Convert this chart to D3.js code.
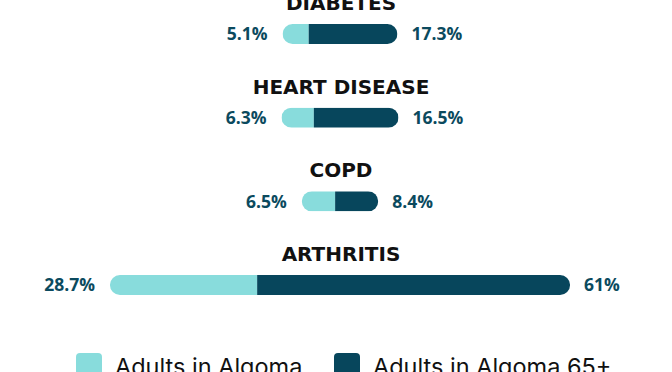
<!DOCTYPE html>
<html>
<head>
<meta charset="utf-8">
<script src="https://cdn.jsdelivr.net/npm/d3@7"></script>
<style>
  html, body { margin: 0; padding: 0; background: #fff; }
  svg { display: block; }
</style>
</head>
<body>
<svg id="chart" width="672" height="372"></svg>
<script>
// Chart data
const conditions = ['DIABETES', 'HEART DISEASE', 'COPD', 'ARTHRITIS'];
const adultsAll = [5.1, 6.3, 6.5, 28.7];
const adults65 = [17.3, 16.5, 8.4, 61];
const seriesNames = ['Adults in Algoma', 'Adults in Algoma 65+'];

const lightColor = '#88dcdc';
const darkColor = '#07465c';
const valueColor = '#0b4a5e';

const svg = d3.select('#chart');
const centerX = 340;
const barH = 20;

// px per percentage point
const x = d3.scaleLinear().domain([0, 100]).range([0, 513]);

// vertical position of each bar (centre line)
const y = d3.scalePoint().domain(conditions).range([34, 285]);

const fmt = v => `${v}%`;

const rows = conditions.map((c, i) => ({ name: c, a: adultsAll[i], b: adults65[i] }));

const defs = svg.append('defs');

const g = svg.selectAll('g.row')
  .data(rows)
  .join('g')
  .attr('class', 'row')
  .attr('transform', d => `translate(0,${y(d.name)})`);

g.each(function(d, i) {
  const row = d3.select(this);
  const total = x(d.a + d.b);
  const left = centerX - total / 2;

  // rounded outline used as clip for both segments
  defs.append('clipPath')
    .attr('id', `clip-${i}`)
    .append('rect')
    .attr('x', left)
    .attr('y', -barH / 2)
    .attr('width', total)
    .attr('height', barH)
    .attr('rx', barH / 2);

  const bar = row.append('g').attr('clip-path', `url(#clip-${i})`);
  bar.append('rect')
    .attr('x', left)
    .attr('y', -barH / 2)
    .attr('width', x(d.a))
    .attr('height', barH)
    .attr('fill', lightColor);
  bar.append('rect')
    .attr('x', left + x(d.a))
    .attr('y', -barH / 2)
    .attr('width', x(d.b))
    .attr('height', barH)
    .attr('fill', darkColor);

  // title
  row.append('text')
    .attr('x', centerX + 1)
    .attr('y', -barH / 2 - 14)
    .attr('text-anchor', 'middle')
    .attr('font-family', '"DejaVu Sans", sans-serif')
    .attr('font-weight', 700)
    .attr('font-size', 20)
    .attr('fill', '#111')
    .text(d.name);

  // values
  row.append('text')
    .attr('x', left - 15)
    .attr('y', 0)
    .attr('dy', '0.36em')
    .attr('text-anchor', 'end')
    .attr('font-family', '"Open Sans", sans-serif')
    .attr('font-weight', 700)
    .attr('font-size', 17.5)
    .attr('fill', valueColor)
    .text(fmt(d.a));
  row.append('text')
    .attr('x', left + total + 14)
    .attr('y', 0)
    .attr('dy', '0.36em')
    .attr('text-anchor', 'start')
    .attr('font-family', '"Open Sans", sans-serif')
    .attr('font-weight', 700)
    .attr('font-size', 17.5)
    .attr('fill', valueColor)
    .text(fmt(d.b));
});

// legend
const legendX = [76, 334];
const legend = svg.selectAll('g.legend')
  .data(seriesNames)
  .join('g')
  .attr('class', 'legend')
  .attr('transform', (d, i) => `translate(${legendX[i]},353)`);

legend.append('rect')
  .attr('width', 26)
  .attr('height', 26)
  .attr('rx', 4)
  .attr('fill', (d, i) => i === 0 ? lightColor : darkColor);

legend.append('text')
  .attr('x', 39)
  .attr('y', 21.5)
  .attr('font-family', 'Inter, sans-serif')
  .attr('font-size', 23.5)
  .attr('fill', '#111')
  .text(d => d);
</script>
</body>
</html>
